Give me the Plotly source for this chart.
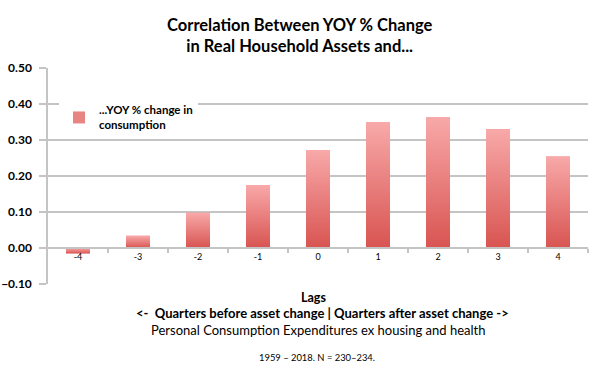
import plotly.graph_objects as go

# ---- data ----
lags = ["-4", "-3", "-2", "-1", "0", "1", "2", "3", "4"]
corr_consumption = [-0.015, 0.034, 0.098, 0.175, 0.272, 0.350, 0.364, 0.330, 0.254]
series_name = "...YOY % change in<br>consumption"

title_text = "Correlation Between YOY % Change<br>in Real Household Assets and..."
xlab1 = "Lags"
xlab2 = "<-  Quarters before asset change | Quarters after asset change ->"
xlab3 = "Personal Consumption Expenditures ex housing and health"
note = "1959 \u2013 2018. N = 230\u2013234."

FONT = "Lato"
GRID = "#c4c4c4"
BAR_W = 0.4

pos = list(range(len(lags)))
y_min, y_max = -0.1, 0.5

fig = go.Figure()

# real bar trace (also provides the legend entry)
fig.add_trace(go.Bar(
    x=pos, y=corr_consumption, width=BAR_W, name=series_name,
    marker=dict(color="#e88584", line=dict(width=0)),
    showlegend=True, hoverinfo="x+y",
))

# vertical-gradient overlay for each bar, derived from the same data
for i, v in zip(pos, corr_consumption):
    fig.add_trace(go.Scatter(
        x=[i - BAR_W / 2, i + BAR_W / 2, i + BAR_W / 2, i - BAR_W / 2, i - BAR_W / 2],
        y=[0, 0, v, v, 0],
        mode="none", fill="toself",
        fillgradient=dict(type="vertical",
                          colorscale=[[0, "#d85451"], [1, "#f8a9a9"]]),
        showlegend=False, hoverinfo="skip",
    ))

zero_frac = (0 - y_min) / (y_max - y_min)

fig.update_layout(
    width=599, height=380,
    margin=dict(l=48, r=11, t=68, b=96),
    paper_bgcolor="white", plot_bgcolor="white",
    font=dict(family=FONT, color="black"),
    showlegend=True,
    legend=dict(x=(59 - 48) / 540, y=(284 - 96) / 216, xanchor="left", yanchor="top",
                bgcolor="white", borderwidth=0,
                font=dict(size=11.5, family=FONT, color="black", weight="bold"),
                itemwidth=30),
    xaxis=dict(
        range=[-0.5, len(lags) - 0.5],
        tickvals=pos, ticktext=lags,
        anchor="free", position=zero_frac,
        showgrid=False, zeroline=False,
        showline=True, linecolor=GRID, linewidth=1.5,
        ticks="", tickfont=dict(size=9, family=FONT),
        minor=dict(tickvals=[p + 0.5 for p in pos], ticks="outside",
                   ticklen=4, tickcolor=GRID, tickwidth=1.5, showgrid=False),
        automargin=False,
        fixedrange=True,
    ),
    yaxis=dict(
        range=[y_min, y_max], dtick=0.1, tick0=0, tickformat=".2f",
        showgrid=True, gridcolor=GRID, gridwidth=1.5,
        zeroline=False,
        showline=True, linecolor=GRID, linewidth=1.5,
        ticks="outside", ticklen=7, tickcolor=GRID, tickwidth=1.5,
        ticklabelstandoff=5,
        tickfont=dict(size=12, family=FONT, weight="bold"),
        automargin=False,
        fixedrange=True,
    ),
)

def px_to_paper_x(px):
    return (px - 48) / 540

def px_to_paper_y(py):
    return (284 - py) / 216

def add_text(text, cx, cy, size, bold=False):
    fig.add_annotation(text=("<b>" + text + "</b>") if bold else text,
                       x=px_to_paper_x(cx), y=px_to_paper_y(cy),
                       xref="paper", yref="paper", showarrow=False,
                       xanchor="center", yanchor="middle",
                       font=dict(size=size, family=FONT))

add_text(title_text, 299.5, 35.5, 16.5, bold=True)
add_text(xlab1, 313, 297, 12.5, bold=True)
add_text(xlab2, 322, 313, 13, bold=True)
add_text(xlab3, 318, 330, 13)
add_text(note, 317, 357, 9.4)

fig.write_html("out.html", config={"displayModeBar": False},
               post_script="document.body.style.margin='0px';")
